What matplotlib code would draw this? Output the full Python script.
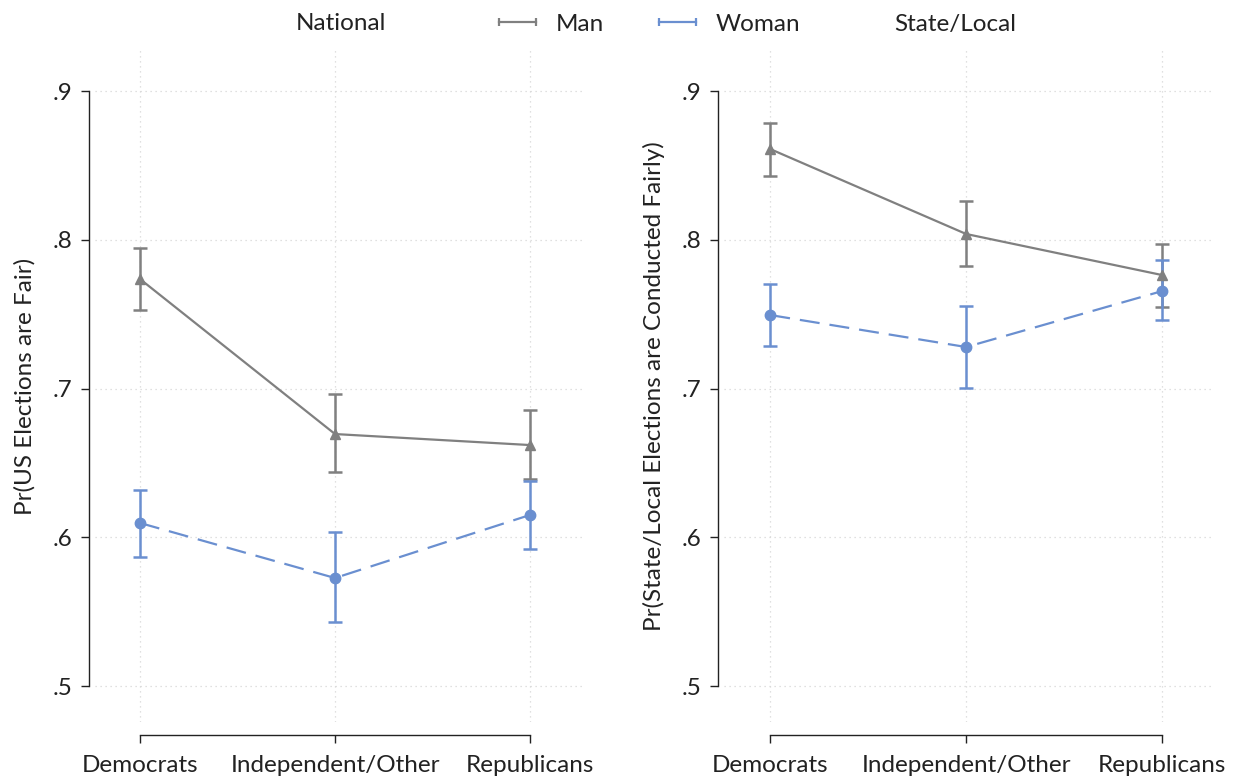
import numpy as np
import matplotlib
matplotlib.use("Agg")
import matplotlib.pyplot as plt
from matplotlib.lines import Line2D

plt.rcParams["font.family"] = ["Lato", "DejaVu Sans"]

PARTIES = ["Democrats", "Independent/Other", "Republicans"]
YTICKS = [0.5, 0.6, 0.7, 0.8, 0.9]
YTICKLABELS = [".5", ".6", ".7", ".8", ".9"]

# National
nat_man = [0.7736, 0.6694, 0.6620]
nat_man_lo = [0.7528, 0.6439, 0.6392]
nat_man_hi = [0.7945, 0.6963, 0.6855]
nat_wom = [0.6096, 0.5726, 0.6150]
nat_wom_lo = [0.5867, 0.5430, 0.5921]
nat_wom_hi = [0.6318, 0.6035, 0.6378]

# State/Local
st_man = [0.8610, 0.8039, 0.7763]
st_man_lo = [0.8429, 0.7824, 0.7548]
st_man_hi = [0.8785, 0.8260, 0.7971]
st_wom = [0.7494, 0.7279, 0.7655]
st_wom_lo = [0.7286, 0.7003, 0.7460]
st_wom_hi = [0.7703, 0.7555, 0.7864]

GRAY = "#808080"
BLUE = "#6a8fd0"
GRID = "#d6d6d6"
TXT = "#222222"
FS = 17.5

W, H = 1234, 778
fig = plt.figure(figsize=(W / 100, H / 100), dpi=100)


def px_axes(left, right, top, bottom):
    return fig.add_axes([left / W, 1 - bottom / H, (right - left) / W, (bottom - top) / H])


def panel(ax, man, man_lo, man_hi, wom, wom_lo, wom_hi, ylabel, xlim):
    x = np.arange(len(PARTIES))
    for vals, lo, hi, col, mk, ls, ms in [
        (man, man_lo, man_hi, GRAY, "^", "-", 7.5),
        (wom, wom_lo, wom_hi, BLUE, "o", (0, (9, 4.5)), 7.5),
    ]:
        vals = np.array(vals)
        yerr = [vals - np.array(lo), np.array(hi) - vals]
        ax.errorbar(x, vals, yerr=yerr, fmt="none", ecolor=col, elinewidth=1.8,
                    capsize=5, capthick=1.8, zorder=2)
        ax.plot(x, vals, color=col, lw=1.6, ls=ls, marker=mk, ms=ms, zorder=3)
    ax.set_xlim(*xlim)
    ax.set_ylim(0.4758, 0.9276)
    ax.set_xticks(x)
    ax.set_xticklabels(PARTIES)
    ax.set_yticks(YTICKS)
    ax.set_yticklabels(YTICKLABELS)
    ax.set_ylabel(ylabel, fontsize=FS, labelpad=12, color=TXT)
    for s in ["top", "right"]:
        ax.spines[s].set_visible(False)
    ax.spines["left"].set_position(("outward", 4.5))
    ax.spines["bottom"].set_position(("outward", 9.5))
    ax.spines["left"].set_bounds(0.5, 0.9)
    ax.spines["bottom"].set_bounds(0, 2)
    for s in ["left", "bottom"]:
        ax.spines[s].set_linewidth(1.0)
        ax.spines[s].set_color(TXT)
    ax.tick_params(axis="both", length=6, width=1.0, color=TXT, labelcolor=TXT,
                   labelsize=FS)
    ax.tick_params(axis="y", pad=6)
    ax.tick_params(axis="x", pad=8)
    ax.grid(True, ls=(0, (1, 3)), color=GRID, lw=0.9)
    ax.set_axisbelow(True)


ax1 = px_axes(95, 585, 50, 722)
panel(ax1, nat_man, nat_man_lo, nat_man_hi, nat_wom, nat_wom_lo, nat_wom_hi,
      "Pr(US Elections are Fair)", (-0.2308, 2.282))
ax2 = px_axes(724, 1212, 50, 722)
panel(ax2, st_man, st_man_lo, st_man_hi, st_wom, st_wom_lo, st_wom_hi,
      "Pr(State/Local Elections are Conducted Fairly)", (-0.236, 2.255))

fig.text(341 / W, 1 - 24 / H, "National", ha="center", va="center", fontsize=FS, color=TXT)
fig.text(955 / W, 1 - 24 / H, "State/Local", ha="center", va="center", fontsize=FS, color=TXT)

handles = [Line2D([0], [0], color=GRAY, lw=1.6, marker="|", ms=6, mew=1.6),
           Line2D([0], [0], color=BLUE, lw=1.6, marker="|", ms=6, mew=1.6)]
fig.legend(handles, ["Man", "Woman"], loc="center", bbox_to_anchor=(646 / W, 1 - 24 / H),
           ncol=2, frameon=False, fontsize=FS, numpoints=2, handlelength=2.1,
           handletextpad=0.5, columnspacing=2.0, labelcolor=TXT)

fig.savefig("out.png", dpi=100)
